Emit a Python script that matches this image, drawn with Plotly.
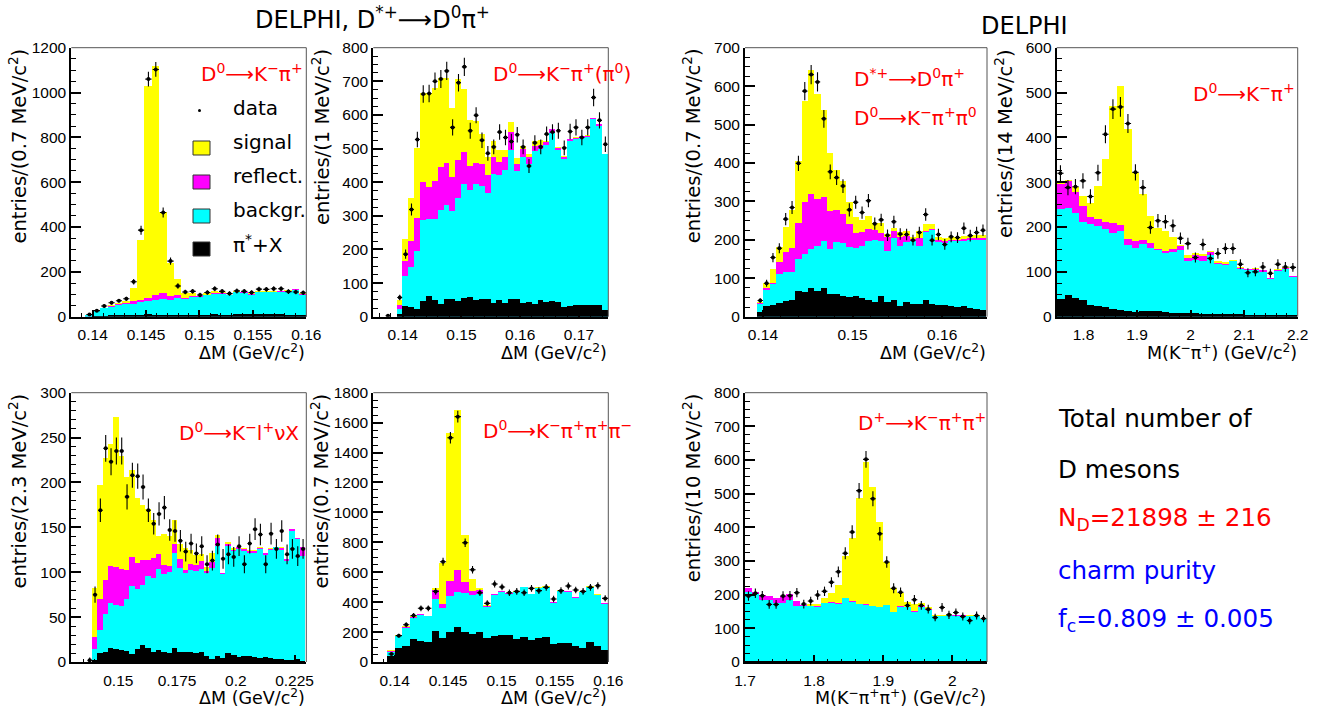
import plotly.graph_objects as go

W, H = 1327, 715
YELLOW, MAGENTA, CYAN, BLACK = "#ffff00", "#ff00ff", "#00ffff", "#000000"
RED, BLUE = "#ff0000", "#0000ff"
TICK_FONT = "Liberation Sans"
TEXT_FONT = "DejaVu Sans"

# ---- panel 1: D0 -> K pi
p1_data = [10,27,48,62,71,80,156,386,1060,1103,465,248,137,110,113,97,108,125,113,103,115,113,108,123,122,125,125,112,110,107]
p1_err = [3,5,7,8,8,9,12,20,33,33,22,16,12,10,11,10,10,11,11,10,11,11,10,11,11,11,11,11,10,10]
p1_signal = [10,30,42,55,63,70,128,342,1032,1120,467,240,170,105,105,95,105,115,110,100,115,112,105,115,115,115,118,120,125,105]
p1_reflect = [10,28,40,50,58,62,70,75,85,100,105,95,100,85,95,92,100,105,105,100,112,110,103,112,112,112,115,118,125,103]
p1_backgr = [10,27,38,45,55,58,60,65,70,75,80,75,85,80,90,90,97,103,103,98,110,108,100,110,110,110,112,112,120,100]
p1_pion = [0,2,3,5,6,7,8,10,12,10,10,8,10,8,10,11,10,12,10,9,12,12,12,12,12,12,12,11,8,8]

# ---- panel 2: D0 -> K pi (pi0)
p2_data = [3,None,57,186,319,527,662,664,700,707,731,563,696,743,553,599,525,486,505,549,533,521,541,505,448,517,505,543,549,553,502,551,563,533,563,652,584,513]
p2_err = [4,0,8,14,18,23,26,26,26,27,27,24,26,27,24,24,23,22,22,23,23,23,23,22,21,23,22,23,23,24,22,23,24,23,24,26,24,23]
p2_signal = [0,0,50,231,353,503,666,666,680,710,710,622,708,677,585,584,545,475,523,498,498,579,473,508,485,523,525,523,560,505,478,528,535,538,540,592,575,486]
p2_reflect = [0,0,35,168,226,295,401,388,403,446,458,416,466,492,449,459,454,421,476,462,476,549,456,500,476,509,513,521,558,502,476,528,533,537,538,592,573,486]
p2_backgr = [0,0,25,121,149,196,289,290,291,319,332,314,355,397,379,396,391,369,426,423,436,498,433,476,454,495,500,513,548,498,469,522,528,533,535,590,569,484]
p2_pion = [0,0,8,34,30,25,49,63,50,40,53,53,48,57,59,52,54,54,43,50,41,53,55,42,44,40,50,46,49,44,31,34,37,35,35,35,35,22]

# ---- panel 3: D*+ -> D0 pi, D0 -> K pi pi0
p3_data = [42,87,154,178,254,284,399,587,630,611,515,377,362,340,278,298,271,302,242,252,212,247,215,214,199,219,266,199,214,188,208,206,230,211,219,225]
p3_err = [6,9,12,13,16,17,20,24,25,25,23,19,19,18,17,17,16,17,16,16,15,16,15,15,14,15,16,14,15,14,14,14,15,15,15,15]
p3_signal = [39,89,124,182,234,279,406,562,643,581,539,428,382,355,299,260,253,263,245,245,217,232,221,223,208,223,241,241,208,206,208,208,210,212,214,214]
p3_reflect = [36,76,88,143,169,180,245,299,321,308,312,275,279,267,243,219,221,228,226,218,208,224,208,210,204,206,225,230,200,198,201,201,203,205,206,206]
p3_backgr = [33,71,85,113,117,117,152,163,177,184,199,176,195,193,182,180,186,199,201,197,172,206,186,195,198,186,221,227,195,192,197,198,199,201,201,201]
p3_pion = [13,28,31,36,42,45,68,65,75,68,76,59,61,54,52,54,50,43,39,55,39,45,28,40,35,35,43,33,30,31,29,26,29,24,22,17]

# ---- panel 4: M(K pi)
p4_data = [320,288,290,303,268,321,407,463,468,431,322,288,199,214,212,203,175,163,132,161,130,141,152,152,117,98,100,111,97,117,111,110]
p4_err = [18,17,17,17,16,18,20,22,22,21,18,17,14,15,15,14,13,13,11,13,11,12,12,12,11,10,10,11,10,11,11,10]
p4_signal = [299,306,290,271,255,292,352,470,516,420,322,275,225,198,192,178,160,138,143,140,148,124,122,128,112,108,110,105,88,106,111,92]
p4_reflect = [296,303,278,248,222,218,212,210,205,175,170,172,165,152,148,152,158,132,138,136,146,120,118,126,110,106,108,104,86,105,110,91]
p4_backgr = [240,243,232,212,207,204,197,188,192,160,154,162,155,150,142,146,149,124,128,126,138,118,116,124,108,104,105,100,85,103,108,90]
p4_pion = [40,48,43,38,26,25,22,18,16,14,11,13,13,13,11,9,8,8,9,7,7,6,6,6,6,5,5,4,3,3,3,5]

# ---- panel 5: D0 -> K l nu X
p5_data = [2,75,169,238,223,235,235,184,208,207,195,169,154,165,172,147,146,135,123,132,121,129,109,113,131,115,120,117,129,109,132,148,142,109,143,126,146,120,126,118,126]
p5_err = [3,9,13,15,15,15,15,14,14,14,14,13,12,13,13,12,12,12,11,11,11,11,10,11,11,11,11,11,11,10,11,12,12,10,12,11,12,11,11,11,11]
p5_signal = [0,83,197,228,243,273,230,206,214,183,175,171,158,141,143,141,158,132,127,125,120,121,106,122,142,100,134,127,129,127,125,125,128,122,127,129,128,115,148,139,129]
p5_reflect = [0,28,71,92,107,106,104,103,117,111,114,114,116,121,108,107,132,115,103,109,108,113,102,112,138,100,132,125,128,126,124,124,127,122,126,129,127,115,148,138,128]
p5_backgr = [0,15,36,54,66,64,63,70,85,82,86,96,94,104,98,101,122,105,100,103,102,104,99,105,130,98,130,124,126,124,122,122,126,120,125,128,125,113,146,137,118]
p5_pion = [0,3,10,12,16,15,14,13,9,15,19,16,12,14,11,10,16,11,12,12,10,11,7,4,7,5,10,8,6,7,7,6,5,6,5,4,4,3,3,4,2]

# ---- panel 6: D0 -> K pi pi pi
p6_data = [53,176,249,310,359,359,472,670,1499,1640,797,617,463,392,521,501,463,472,463,492,477,499,421,477,508,481,472,499,510,425]
p6_err = [7,13,16,18,19,19,22,26,39,40,28,25,22,20,23,22,22,22,22,22,22,22,21,22,23,22,22,22,23,21]
p6_signal = [80,180,240,307,325,312,499,664,1533,1684,853,559,499,381,459,477,466,474,506,459,503,508,403,481,477,437,474,508,454,397]
p6_reflect = [76,178,236,303,321,310,486,392,544,619,537,477,481,376,454,474,463,472,503,457,499,503,401,479,474,434,472,503,452,394]
p6_backgr = [69,174,232,299,316,307,425,361,443,472,466,452,459,372,452,472,459,468,501,454,497,501,399,477,472,432,470,501,450,392]
p6_pion = [40,94,107,158,140,136,207,160,203,234,203,187,200,160,174,180,185,158,169,147,163,167,125,131,129,111,96,134,107,80]

# ---- panel 7: D+ -> K pi pi
p7_data = [196,204,197,171,171,196,197,206,172,181,199,210,237,268,323,386,509,602,485,381,297,219,207,168,185,168,157,132,162,140,147,135,123,138,129]
p7_err = [14,14,14,13,13,14,14,14,13,13,14,14,15,16,18,20,23,25,22,20,17,15,14,13,14,13,13,11,13,12,12,12,11,12,11]
p7_signal = [222,209,199,197,192,197,202,179,169,172,174,191,206,231,316,369,489,595,521,417,298,221,207,179,174,177,165,142,140,143,142,142,142,140,129]
p7_reflect = [222,209,199,197,192,197,202,181,169,168,166,176,180,176,191,181,174,172,168,165,170,150,166,164,153,166,158,139,139,142,140,140,139,139,129]
p7_backgr = [209,204,184,184,176,176,184,167,168,166,164,176,176,174,191,180,174,171,167,163,169,149,164,163,150,164,156,137,137,140,138,137,137,137,128]
p7_pion = [3,2,1,5,2,1,1,1,1,1,2,1,1,1,1,2,1,1,1,1,1,1,1,2,1,1,1,1,1,1,1,1,1,1,1]

# ---- axes
y_labels_1 = [0, 200, 400, 600, 800, 1000, 1200]
y_labels_2 = [0, 100, 200, 300, 400, 500, 600, 700, 800]
y_labels_3 = [0, 100, 200, 300, 400, 500, 600, 700]
y_labels_4 = [0, 100, 200, 300, 400, 500, 600]
y_labels_5 = [0, 50, 100, 150, 200, 250, 300]
y_labels_6 = [0, 200, 400, 600, 800, 1000, 1200, 1400, 1600, 1800]
y_labels_7 = [0, 100, 200, 300, 400, 500, 600, 700, 800]
x_labels_1 = ["0.14", "0.145", "0.15", "0.155", "0.16"]
x_labels_2 = ["0.14", "0.15", "0.16", "0.17"]
x_labels_3 = ["0.14", "0.15", "0.16"]
x_labels_4 = ["1.8", "1.9", "2", "2.1", "2.2"]
x_labels_5 = ["0.15", "0.175", "0.2", "0.225"]
x_labels_7 = ["1.7", "1.8", "1.9", "2"]

panels = [
    dict(box=(71.3, 306.3, 47.7, 316.7), xr=(0.138, 0.16), yr=1200, x0=0.1397, dx=0.00069, xt=x_labels_1, xm=0.001, yt=y_labels_1, ym=50,
         s=(p1_data, p1_err, p1_signal, p1_reflect, p1_backgr, p1_pion),
         ytitle="entries/(0.7 MeV/c<sup>2</sup>)", xtitle="ΔM (GeV/c<sup>2</sup>)"),
    dict(box=(373.3, 608.3, 47.7, 316.7), xr=(0.135, 0.175), yr=800, x0=0.1375, dx=0.001, xt=x_labels_2, xm=0.002, yt=y_labels_2, ym=25,
         s=(p2_data, p2_err, p2_signal, p2_reflect, p2_backgr, p2_pion),
         ytitle="entries/(1 MeV/c<sup>2</sup>)", xtitle="ΔM (GeV/c<sup>2</sup>)"),
    dict(box=(745, 987, 47.7, 316.7), xr=(0.138, 0.165), yr=700, x0=0.1397, dx=0.00071, xt=x_labels_3, xm=0.002, yt=y_labels_3, ym=25,
         s=(p3_data, p3_err, p3_signal, p3_reflect, p3_backgr, p3_pion),
         ytitle="entries/(0.7 MeV/c<sup>2</sup>)", xtitle="ΔM (GeV/c<sup>2</sup>)"),
    dict(box=(1056.7, 1297.7, 47.7, 316.7), xr=(1.75, 2.2), yr=600, x0=1.757, dx=0.014, xt=x_labels_4, xm=0.02, yt=y_labels_4, ym=25,
         s=(p4_data, p4_err, p4_signal, p4_reflect, p4_backgr, p4_pion),
         ytitle="entries/(14 MeV/c<sup>2</sup>)", xtitle="M(K<sup>−</sup>π<sup>+</sup>) (GeV/c<sup>2</sup>)"),
    dict(box=(71.3, 306.3, 392.7, 662), xr=(0.13, 0.23), yr=300, x0=0.13783, dx=0.00227, xt=x_labels_5, xm=0.005, yt=y_labels_5, ym=10,
         s=(p5_data, p5_err, p5_signal, p5_reflect, p5_backgr, p5_pion),
         ytitle="entries/(2.3 MeV/c<sup>2</sup>)", xtitle="ΔM (GeV/c<sup>2</sup>)"),
    dict(box=(373.3, 608.3, 392.7, 662), xr=(0.138, 0.16), yr=1800, x0=0.1397, dx=0.00069, xt=x_labels_1, xm=0.001, yt=y_labels_6, ym=50,
         s=(p6_data, p6_err, p6_signal, p6_reflect, p6_backgr, p6_pion),
         ytitle="entries/(0.7 MeV/c<sup>2</sup>)", xtitle="ΔM (GeV/c<sup>2</sup>)"),
    dict(box=(745, 987, 392.7, 662), xr=(1.7, 2.05), yr=800, x0=1.705, dx=0.01, xt=x_labels_7, xm=0.02, yt=y_labels_7, ym=25,
         s=(p7_data, p7_err, p7_signal, p7_reflect, p7_backgr, p7_pion),
         ytitle="entries/(10 MeV/c<sup>2</sup>)", xtitle="M(K<sup>−</sup>π<sup>+</sup>π<sup>+</sup>) (GeV/c<sup>2</sup>)"),
]

fig = go.Figure()
annotations, shapes = [], []


def px(x):
    return x / W


def py(y):
    return 1 - y / H


def text(x, y, s, size=18, color="black", xanchor="left", angle=0, font=TEXT_FONT, yanchor="middle"):
    annotations.append(dict(xref="paper", yref="paper", x=px(x), y=py(y), text=s, showarrow=False,
                            xanchor=xanchor, yanchor=yanchor, textangle=angle, borderpad=0,
                            font=dict(family=font, size=size, color=color)))


layout_axes = {}
for i, p in enumerate(panels, start=1):
    l, r, t, b = p["box"]
    xa, ya = f"x{i}", f"y{i}"
    data, err, signal, reflect, backgr, pion = p["s"]
    for vals, col in ((signal, YELLOW), (reflect, MAGENTA), (backgr, CYAN), (pion, BLACK)):
        fig.add_trace(go.Bar(x0=p["x0"], dx=p["dx"], y=vals, width=p["dx"], xaxis=xa, yaxis=ya,
                             marker=dict(color=col, line=dict(width=0)), showlegend=False))
    fig.add_trace(go.Scatter(x0=p["x0"], dx=p["dx"], y=data, xaxis=xa, yaxis=ya, mode="markers",
                             marker=dict(color="black", size=4), showlegend=False,
                             error_y=dict(type="data", array=err, color="black", thickness=1.1, width=0),
                             error_x=dict(type="constant", value=p["dx"] * 0.42, color="black", thickness=1.1, width=0)))
    xvals = [float(v) for v in p["xt"]]
    layout_axes[f"xaxis{i}"] = dict(
        domain=[px(l), px(r)], anchor=ya, range=list(p["xr"]), showgrid=False, zeroline=False,
        showline=True, linecolor="black", linewidth=2, ticks="inside", ticklen=7, tickwidth=1.5, tickcolor="black",
        tickmode="array", tickvals=xvals, ticktext=p["xt"], ticklabelstandoff=3,
        tickfont=dict(family=TICK_FONT, size=15.5, color="black"),
        minor=dict(ticks="inside", dtick=p["xm"], tick0=xvals[0], ticklen=3.5, tickwidth=1, tickcolor="black", showgrid=False),
    )
    layout_axes[f"yaxis{i}"] = dict(
        domain=[py(b), py(t)], anchor=xa, range=[0, p["yr"]], showgrid=False, zeroline=False,
        showline=True, linecolor="black", linewidth=2, ticks="inside", ticklen=10, tickwidth=1.5, tickcolor="black",
        tickmode="array", tickvals=p["yt"], ticktext=[str(v) for v in p["yt"]],
        tickfont=dict(family=TICK_FONT, size=15.5, color="black"),
        minor=dict(ticks="inside", dtick=p["ym"], tick0=0, ticklen=5, tickwidth=1.2, tickcolor="black", showgrid=False),
    )
    # grey upper and right frame lines
    shapes.append(dict(type="line", xref="paper", yref="paper", x0=px(l), x1=px(r), y0=py(t), y1=py(t),
                       line=dict(color="#555555", width=1)))
    shapes.append(dict(type="line", xref="paper", yref="paper", x0=px(r), x1=px(r), y0=py(t), y1=py(b),
                       line=dict(color="#555555", width=1)))
    # axis captions, aligned at the axis ends as in the reference
    text(l - 53, t, p["ytitle"], size=19.5, angle=-90, yanchor="top", xanchor="center")
    text(r, b + 35, p["xtitle"], size=17.5, xanchor="right")

ARROW = "⟶"
text(254, 18, f"DELPHI, D<sup>*+</sup>{ARROW}D<sup>0</sup>π<sup>+</sup>", size=24)
text(980, 26, "DELPHI", size=24)
text(200, 73, f"D<sup>0</sup>{ARROW}K<sup>−</sup>π<sup>+</sup>", size=20, color=RED)
text(492, 73, f"D<sup>0</sup>{ARROW}K<sup>−</sup>π<sup>+</sup>(π<sup>0</sup>)", size=20, color=RED)
text(853, 78, f"D<sup>*+</sup>{ARROW}D<sup>0</sup>π<sup>+</sup>", size=20, color=RED)
text(853, 117, f"D<sup>0</sup>{ARROW}K<sup>−</sup>π<sup>+</sup>π<sup>0</sup>", size=20, color=RED)
text(1192, 93, f"D<sup>0</sup>{ARROW}K<sup>−</sup>π<sup>+</sup>", size=20, color=RED)
text(178, 432, f"D<sup>0</sup>{ARROW}K<sup>−</sup>l<sup>+</sup>νX", size=20, color=RED)
text(482, 430, f"D<sup>0</sup>{ARROW}K<sup>−</sup>π<sup>+</sup>π<sup>+</sup>π<sup>−</sup>", size=20, color=RED)
text(857, 422, f"D<sup>+</sup>{ARROW}K<sup>−</sup>π<sup>+</sup>π<sup>+</sup>", size=20, color=RED)

# legend of the first panel
for label, yy in (("data", 108), ("signal", 142), ("reflect.", 176), ("backgr.", 210), ("π<sup>*</sup>+X", 244)):
    text(232, yy, label, size=20)
for col, top in ((YELLOW, 141), (MAGENTA, 175), (CYAN, 209), (BLACK, 242)):
    shapes.append(dict(type="rect", xref="paper", yref="paper", x0=px(193), x1=px(210), y0=py(top + 14), y1=py(top),
                       fillcolor=col, line=dict(color="#333333", width=1)))
shapes.append(dict(type="circle", xref="paper", yref="paper", x0=px(198), x1=px(201), y0=py(112), y1=py(109),
                   fillcolor="black", line=dict(color="black", width=0)))

text(1057, 418, "Total number of", size=24.6)
text(1057, 469, "D mesons", size=24.6)
text(1057, 519, "N<sub>D</sub>=21898 ± 216", size=24.6, color=RED)
text(1057, 570, "charm purity", size=24.6, color=BLUE)
text(1057, 620, "f<sub>c</sub>=0.809 ± 0.005", size=24.6, color=BLUE)

fig.update_layout(width=W, height=H, margin=dict(l=0, r=0, t=0, b=0, pad=0, autoexpand=False), paper_bgcolor="white", plot_bgcolor="white",
                  barmode="overlay", bargap=0, showlegend=False, annotations=annotations, shapes=shapes, **layout_axes)
fig.write_html("out.html", config={"displayModeBar": False}, post_script="document.body.style.margin='0';")
